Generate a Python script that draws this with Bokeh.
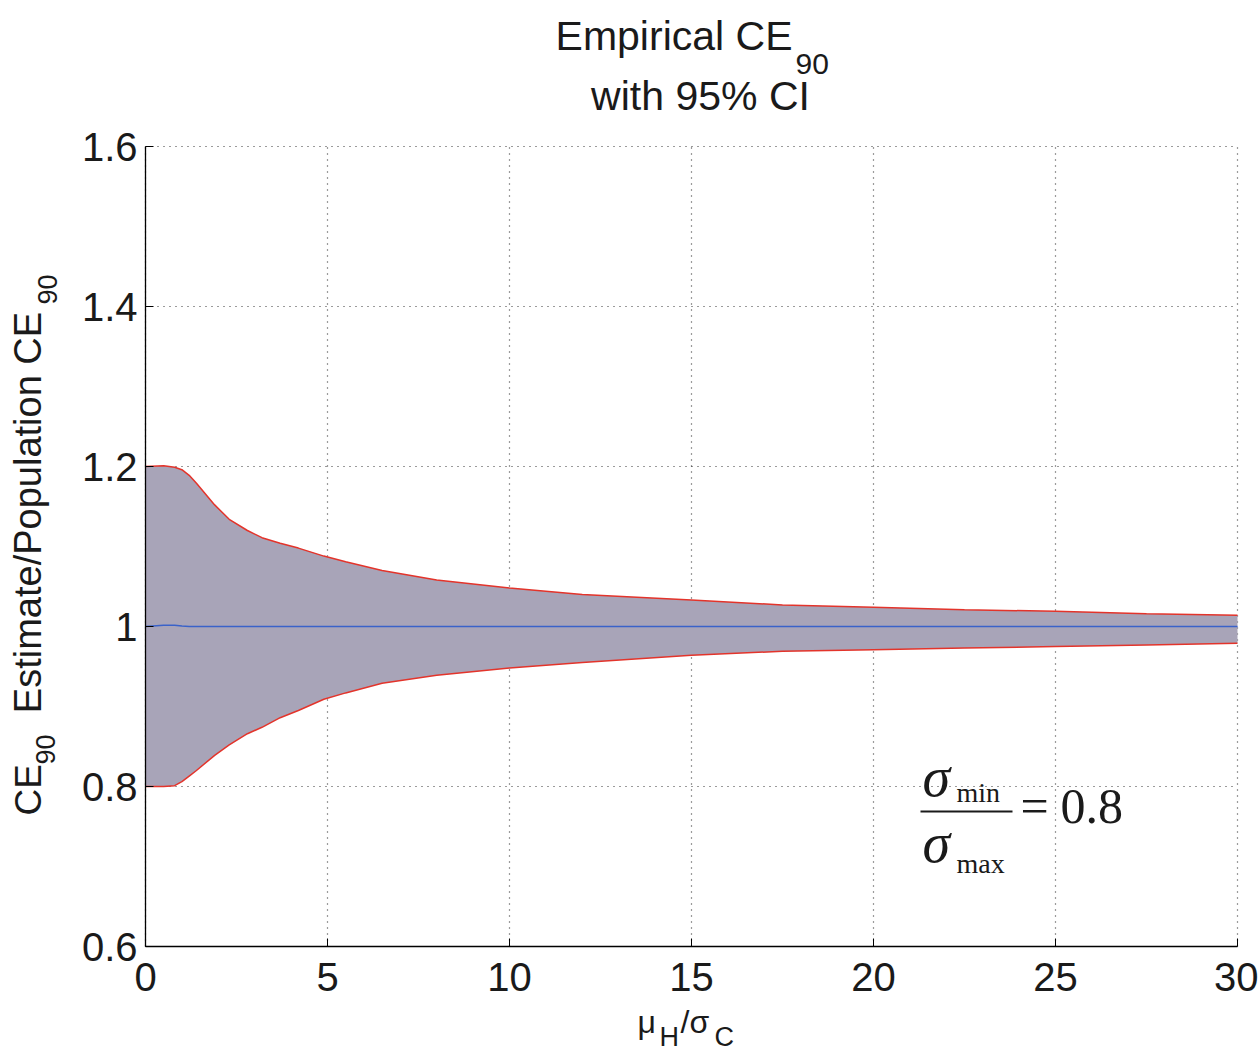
import math
from bokeh.plotting import figure
from bokeh.models import Range1d, FixedTicker, ColumnDataSource, Label, BoxAnnotation, LinearAxis
from bokeh.embed import file_html
from bokeh.resources import INLINE

# ---------------- data ----------------
ratio = [0, 0.5, 0.8, 1.0, 1.2, 1.4, 1.9, 2.3, 2.8, 3.2, 3.7, 4.2, 4.9, 5.5, 6.5,
         8, 10, 12, 15, 17.5, 20, 22.5, 25, 27.5, 30]
upper = [1.200, 1.201, 1.199, 1.196, 1.189, 1.179, 1.152, 1.134, 1.120, 1.111, 1.104,
         1.098, 1.088, 1.081, 1.070, 1.058, 1.048, 1.040, 1.033, 1.027, 1.024,
         1.021, 1.019, 1.016, 1.014]
lower = [0.800, 0.800, 0.801, 0.806, 0.813, 0.820, 0.839, 0.852, 0.866, 0.874, 0.886,
         0.895, 0.909, 0.917, 0.929, 0.939, 0.948, 0.955, 0.964, 0.969, 0.971,
         0.973, 0.975, 0.977, 0.979]
mean = [1.000, 1.0015, 1.0015, 1.0005, 1.000, 1.000, 1.000, 1.000, 1.000, 1.000, 1.000,
        1.000, 1.000, 1.000, 1.000, 1.000, 1.000, 1.000, 1.000, 1.000, 1.000,
        1.000, 1.000, 1.000, 1.000]

x_ticks = [0, 5, 10, 15, 20, 25, 30]
x_tick_labels = ["0", "5", "10", "15", "20", "25", "30"]
y_ticks = [0.6, 0.8, 1.0, 1.2, 1.4, 1.6]
y_tick_labels = ["0.6", "0.8", "1", "1.2", "1.4", "1.6"]

title_main = "Empirical CE"
title_sub = "90"
title_line2 = "with 95% CI"
ratio_value = "0.8"

# ---------------- layout helpers (page px -> data) ----------------
FL, FR, FT, FB = 145, 1237, 146, 946      # plot box in page pixels
XMIN, XMAX, YMIN, YMAX = x_ticks[0], x_ticks[-1], y_ticks[0], y_ticks[-1]
W, H = 1258, 1056
BASE_K = 0.4   # correction of the rendered baseline offset (fraction of font size)


def dx(px):
    return XMIN + (px - FL) * (XMAX - XMIN) / (FR - FL)


def dy(py):
    return YMAX - (py - FT) * (YMAX - YMIN) / (FB - FT)


p = figure(width=W, height=H, output_backend="svg", toolbar_location=None,
           x_range=Range1d(dx(0), dx(W)), y_range=Range1d(dy(H), dy(0)),
           x_axis_location=None, y_axis_location=None,
           min_border=0, min_border_left=0, min_border_right=0,
           min_border_top=0, min_border_bottom=0,
           background_fill_color="white", border_fill_color="white")
p.outline_line_color = None
p.grid.visible = False

# dotted grid, limited to the plot box
grid_style = dict(line_color="#222222", line_dash="1 5", line_width=1.2, line_alpha=0.9)
p.segment(x0=x_ticks, x1=x_ticks, y0=[YMIN] * len(x_ticks), y1=[YMAX] * len(x_ticks), **grid_style)
p.segment(x0=[XMIN] * len(y_ticks), x1=[XMAX] * len(y_ticks), y0=y_ticks, y1=y_ticks, **grid_style)

src = ColumnDataSource(dict(x=ratio, upper=upper, lower=lower, mean=mean))
p.varea(x="x", y1="lower", y2="upper", source=src, fill_color="#a8a4b8", fill_alpha=1.0)
p.line(x="x", y="upper", source=src, line_color="#e3342b", line_width=1.5)
p.line(x="x", y="lower", source=src, line_color="#e3342b", line_width=1.5)
p.line(x="x", y="mean", source=src, line_color="#3a62c9", line_width=1.5)

# axes fixed at the plot box edges
xax = LinearAxis(fixed_location=YMIN, bounds=(XMIN, XMAX))
yax = LinearAxis(fixed_location=XMIN, bounds=(YMIN, YMAX))
p.add_layout(xax, "below")
p.add_layout(yax, "left")
for ax, ticks, labels in ((xax, x_ticks, x_tick_labels), (yax, y_ticks, y_tick_labels)):
    ax.ticker = FixedTicker(ticks=ticks)
    ax.major_label_overrides = {t: l for t, l in zip(ticks, labels)}
    ax.major_label_text_font = "Liberation Sans"
    ax.major_label_text_font_size = "40px"
    ax.major_label_text_color = "#1a1a1a"
    ax.axis_line_color = "black"
    ax.axis_line_width = 1.3
    ax.major_tick_in = 8
    ax.major_tick_out = 0
    ax.major_tick_line_color = "black"
    ax.minor_tick_line_color = None
xax.major_label_standoff = 16
yax.major_label_standoff = 8


def lab(text, px, py, size, font="Liberation Sans", align="left", rotated=False,
        style="normal", color="#1a1a1a"):
    if rotated:
        px = px - BASE_K * size
        angle = math.pi / 2
    else:
        py = py - BASE_K * size
        angle = 0.0
    p.add_layout(Label(x=dx(px), y=dy(py), text=text, text_font=font,
                       text_font_size=f"{size}px", text_align=align,
                       text_baseline="alphabetic", angle=angle,
                       text_font_style=style, text_color=color))


# title
lab(title_main, 792, 52, 41, align="right")
lab(title_sub, 795, 75, 30)
lab(title_line2, 700, 112, 41, align="center")

# y-axis label (rotated, composed with subscripts)
lab("CE", 43, 815, 37, rotated=True)
lab("90", 56, 764, 27, rotated=True)
lab("Estimate/Population CE", 43, 512, 38, align="center", rotated=True)
lab("90", 58, 304, 27, rotated=True)

# x-axis label
lab("\u03bc", 637, 1034, 32)
lab("H", 659, 1047, 27)
lab("/\u03c3", 680, 1034, 32)
lab("C", 714, 1047, 27)

# sigma ratio annotation
lab("\u03c3", 922, 799, 56, font="Liberation Serif", style="italic")
lab("min", 956, 803, 28, font="Liberation Serif")
lab("\u03c3", 922, 865, 56, font="Liberation Serif", style="italic")
lab("max", 956, 874, 28, font="Liberation Serif")
lab("=", 1020, 825, 50, font="Liberation Serif")
lab(ratio_value, 1060, 826, 50, font="Liberation Serif")
p.add_layout(BoxAnnotation(left=dx(920), right=dx(1012), bottom=dy(812), top=dy(810),
                           fill_color="#1a1a1a", fill_alpha=1.0, line_color=None))

open("out.html", "w").write(file_html(p, INLINE))
